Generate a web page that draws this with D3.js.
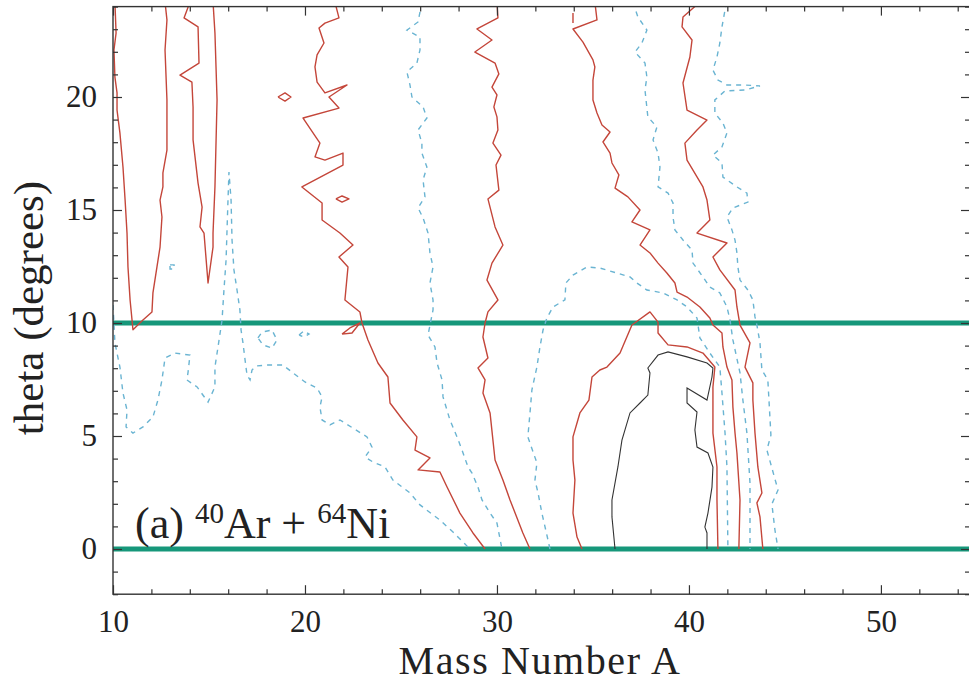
<!DOCTYPE html>
<html>
<head>
<meta charset="utf-8">
<script src="https://cdn.jsdelivr.net/npm/d3@7"></script>
<style>
  html, body { margin: 0; padding: 0; background: #ffffff; }
  svg { display: block; }
  text { font-family: "Liberation Serif", "DejaVu Serif", serif; fill: #222; }
</style>
</head>
<body>
<svg id="chart" width="969" height="682"></svg>
<script>
// ---- axis settings ----
const xDomain = [10, 54.64];
const yDomain = [-2, 24];
const xMajorTicks = [10, 20, 30, 40, 50];
const yMajorTicks = [0, 5, 10, 15, 20];
const xLabel = "Mass Number A";
const yLabel = "theta (degrees)";

// horizontal reference lines (theta window)
const windowLines = [0, 10];

// ---- contour lines, [A, theta] pairs ----
// solid red level
const red1 = [[10.10,24.2],[10.16,22.83],[10.05,22.08],[10.10,20.88],[10.21,20.18],[10.21,19.42],[10.36,18.41],[10.52,16.90],[10.63,15.44],[10.73,13.98],[10.78,12.48],[10.89,11.02],[11.04,9.70],[11.56,10.13],[12.03,10.49],[12.08,11.33],[12.29,12.48],[12.45,13.36],[12.55,14.69],[12.45,15.44],[12.60,16.02],[12.60,16.64],[12.81,17.65],[12.81,19.87],[12.71,22.08],[12.81,23.41],[12.71,24.2]];
const red2 = [[14.01,24.2],[13.70,23.50],[14.43,23.10],[14.48,21.50],[13.49,20.97],[14.11,20.66],[14.17,19.56],[14.17,18.10],[14.43,16.19],[14.64,15.13],[14.53,14.25],[14.74,13.98],[14.95,11.77],[15.21,13.36],[15.21,13.98],[15.31,16.02],[15.42,19.87],[15.31,22.83],[15.21,24.2]];
const red3 = [[18.59,20.0],[18.96,20.18],[19.27,20.0],[18.96,19.82],[18.59,20.0]];
const red4 = [[21.56,24.2],[21.77,23.50],[21.04,23.27],[20.73,23.05],[20.99,22.39],[20.63,21.86],[20.52,21.33],[20.63,20.66],[21.04,20.18],[22.19,20.53],[21.25,20.00],[21.77,19.51],[19.90,19.07],[20.78,17.96],[20.52,17.35],[21.04,17.21],[21.98,17.52],[21.98,16.99],[19.84,16.02],[20.89,15.31],[20.89,14.56],[21.82,13.98],[22.50,13.45],[21.77,12.92],[22.24,12.48],[22.08,11.02],[22.86,10.49],[22.97,10.00],[23.28,9.25],[23.80,8.23],[24.32,7.61],[24.43,6.46],[25.10,5.71],[25.83,4.96],[25.73,4.38],[26.51,4.03],[25.89,3.50],[27.03,3.41],[27.40,2.74],[28.07,1.59],[28.75,0.71],[29.38,0.0]];
const red5 = [[21.61,15.49],[21.93,15.62],[22.29,15.49],[21.93,15.35],[21.61,15.49]];
const red6 = [[21.93,9.51],[22.34,9.78],[22.86,10.00],[22.45,9.56],[21.93,9.51]];
const red7 = [[30.00,24.2],[30.05,23.50],[28.96,23.01],[29.74,22.52],[28.85,21.99],[29.90,21.50],[30.10,21.02],[29.74,20.44],[30.00,20.09],[29.84,19.56],[30.00,19.12],[30.05,18.54],[29.79,17.96],[30.21,17.43],[29.95,16.99],[30.10,15.88],[29.53,15.49],[29.90,14.25],[30.31,13.45],[29.74,12.65],[29.48,11.90],[30.05,11.02],[29.53,10.49],[29.38,10.00],[29.27,9.38],[29.53,8.45],[29.01,8.01],[29.38,7.48],[29.27,6.90],[29.64,6.02],[29.90,3.94],[30.31,3.05],[30.68,2.17],[31.35,0.71],[31.72,0.0]];
const red8 = [[33.96,23.72],[33.96,23.27]];
const red9 = [[34.43,0.0],[34.17,0.53],[33.96,1.59],[34.06,3.05],[33.96,3.94],[33.96,4.96],[34.32,6.02],[34.79,6.59],[34.95,7.61],[35.36,7.92],[35.73,8.05],[36.41,8.67],[37.03,9.91],[37.97,10.49],[38.39,10.04],[38.39,9.56],[38.91,9.03],[39.90,8.94],[40.73,8.67],[41.35,8.05],[41.25,7.17],[41.25,5.13],[41.46,3.63],[41.46,2.17],[41.51,0.0]];
const red10 = [[35.10,24.2],[35.21,23.41],[33.96,23.01],[34.48,22.43],[35.00,21.64],[35.10,21.33],[35.00,20.75],[35.00,19.87],[35.21,19.29],[35.47,18.76],[35.89,18.45],[35.52,18.01],[35.89,17.52],[35.99,17.08],[36.35,16.55],[36.15,15.97],[36.82,15.58],[37.45,15.00],[37.03,14.47],[37.97,14.12],[37.45,13.45],[37.97,13.10],[38.39,12.65],[38.85,12.21],[39.27,11.77],[39.38,11.37],[39.90,11.15],[40.57,10.71],[41.09,10.22],[41.25,9.91],[41.72,9.56],[41.77,8.94],[41.98,8.05],[42.24,7.48],[42.29,6.28],[42.40,5.13],[42.50,4.25],[42.66,2.17],[42.60,0.0]];
const red11 = [[40.57,24.2],[39.69,23.54],[39.64,23.10],[40.16,22.52],[40.05,21.77],[39.69,20.62],[39.90,19.42],[40.94,18.98],[40.42,18.54],[39.79,17.96],[39.90,17.21],[40.73,16.02],[40.94,15.44],[41.09,14.56],[40.42,13.98],[41.98,13.54],[41.25,12.92],[41.61,12.35],[42.40,11.46],[42.50,10.71],[42.66,9.91],[43.18,9.12],[42.92,8.05],[43.33,7.35],[43.33,6.59],[43.44,5.13],[43.59,3.63],[43.80,2.48],[43.54,2.04],[43.70,1.42],[43.85,0.0]];
// inner black level
const black1 = [[36.15,0.0],[35.99,1.42],[35.99,2.17],[36.30,3.63],[36.51,4.82],[36.93,6.02],[37.45,6.46],[37.86,6.81],[37.97,7.79],[37.86,8.01],[38.39,8.58],[38.91,8.72],[39.90,8.50],[40.94,8.23],[41.25,8.01],[41.20,7.61],[40.94,6.59],[39.90,7.12],[39.90,6.46],[40.42,6.06],[40.31,5.27],[40.42,4.51],[40.99,4.25],[41.25,3.63],[41.20,2.74],[40.99,1.59],[40.83,0.97],[40.94,0.71],[40.94,0.0]];
// dashed blue level
const blue1 = [[10.00,10.80],[10.10,9.12],[10.36,8.05],[10.52,6.90],[10.73,6.15],[10.68,5.40],[11.04,5.13],[11.56,5.40],[12.08,5.84],[12.34,6.59],[12.55,7.48],[12.71,8.45],[13.23,8.67],[14.01,8.58],[13.91,7.83],[13.85,7.48],[14.38,7.17],[14.95,6.50],[15.31,7.17],[15.31,8.05],[15.47,8.94],[15.68,10.13],[15.78,11.46],[15.89,12.79],[15.94,14.12],[15.99,15.44],[16.04,16.68],[16.15,15.44],[16.20,13.67],[16.30,12.35],[16.46,11.46],[16.61,10.58],[16.67,9.69],[16.77,9.12],[16.88,8.36],[16.98,7.70],[17.14,7.48],[17.24,7.92],[17.45,8.10],[18.02,8.14],[18.85,8.14],[19.38,7.79],[20.00,7.39],[20.63,7.12],[20.89,6.73],[20.78,6.28],[20.89,5.71],[21.30,5.49],[21.82,5.71],[22.50,5.35],[23.23,4.96],[23.49,4.51],[23.13,4.07],[23.54,3.85],[24.17,3.63],[24.58,3.05],[25.47,2.48],[25.99,1.95],[27.03,1.28],[27.71,0.75],[28.23,0.31],[28.59,0.0]];
const blue2 = [[17.55,9.34],[17.76,9.60],[18.28,9.69],[18.54,9.25],[18.28,8.89],[17.81,9.03],[17.55,9.34]];
const blue3 = [[19.69,9.47],[19.95,9.65],[20.21,9.51],[19.95,9.38],[19.69,9.47]];
const blue4 = [[12.97,12.57],[13.18,12.57],[13.18,12.39],[12.97,12.39],[12.97,12.57]];
const blue5 = [[26.09,24.2],[25.89,23.32],[25.31,22.96],[25.99,22.65],[25.99,22.08],[25.83,21.50],[25.31,21.11],[25.47,20.53],[25.57,20.00],[26.15,19.56],[26.35,19.07],[25.89,18.54],[26.09,17.96],[26.09,17.52],[26.35,16.90],[26.15,16.33],[26.25,15.58],[25.89,15.09],[26.15,14.65],[26.41,13.98],[26.51,13.10],[26.67,12.48],[26.51,11.77],[26.67,11.02],[26.67,10.58],[26.41,9.47],[26.77,8.94],[26.88,8.23],[27.14,7.48],[27.19,6.73],[27.55,5.71],[27.92,4.96],[28.18,4.38],[28.49,3.63],[28.70,3.36],[29.01,2.74],[29.22,2.17],[29.64,1.59],[30.00,1.15],[30.26,0.0]];
const blue6 = [[32.76,0.0],[32.60,0.62],[32.34,1.59],[32.14,2.48],[31.98,3.05],[32.08,3.81],[31.61,4.96],[31.72,6.02],[31.82,7.04],[32.08,8.05],[32.24,8.94],[32.40,9.69],[32.60,10.22],[32.92,10.71],[33.54,11.02],[33.59,11.77],[33.96,12.12],[34.69,12.48],[35.36,12.43],[36.25,12.21],[36.93,12.04],[37.29,11.77],[37.81,11.46],[38.65,11.33],[39.38,11.02],[39.90,10.71],[40.42,10.22],[40.57,9.34],[41.09,8.67],[41.61,8.05],[41.72,6.90],[41.88,5.13],[41.98,3.63],[42.03,0.0]];
const blue7 = [[37.08,24.2],[37.34,23.54],[37.81,22.96],[37.55,22.39],[37.19,21.99],[37.71,21.50],[37.81,20.88],[37.71,20.31],[37.86,19.12],[38.33,18.67],[38.13,18.10],[38.39,17.52],[38.49,16.90],[38.39,16.02],[38.91,15.75],[39.17,15.31],[39.17,14.69],[39.27,14.12],[39.69,13.67],[40.16,13.23],[40.21,12.65],[40.73,12.04],[41.09,11.59],[41.61,11.33],[41.98,10.71],[42.14,10.13],[42.29,9.25],[42.66,7.79],[42.81,6.59],[43.02,5.13],[43.18,2.92],[43.18,0.0]];
const blue8 = [[41.93,24.2],[41.88,23.85],[41.72,23.10],[41.61,22.39],[41.46,21.77],[41.25,21.19],[41.51,20.75],[41.98,20.53],[42.92,20.53],[43.70,20.49],[42.92,20.31],[41.88,20.27],[41.35,19.87],[41.35,19.29],[41.77,18.85],[41.98,18.41],[41.72,17.79],[41.25,17.43],[41.72,17.08],[41.77,16.46],[42.50,16.02],[43.02,15.75],[43.07,15.35],[42.29,15.09],[41.98,14.69],[42.24,14.12],[42.40,13.67],[42.50,13.10],[42.55,12.48],[42.66,11.90],[43.07,11.46],[43.33,11.02],[43.44,10.27],[43.54,9.91],[43.70,9.12],[43.80,7.92],[44.11,7.48],[44.27,5.04],[44.06,4.38],[44.64,2.61],[44.32,1.99],[44.48,0.84],[44.64,0.0]];

const redLines = [red1, red2, red3, red4, red5, red6, red7, red8, red9, red10, red11];
const blackLines = [black1];
const blueLines = [blue1, blue2, blue3, blue4, blue5, blue6, blue7, blue8];

// ---- layout ----
const svg = d3.select("#chart");
const plotLeft = 113, plotRight = 970, plotTop = 6.6, plotBottom = 594.2;

const x = d3.scaleLinear().domain(xDomain).range([plotLeft, plotRight]);
const y = d3.scaleLinear().domain(yDomain).range([plotBottom, plotTop]);

svg.append("defs").append("clipPath").attr("id", "plotClip")
  .append("rect").attr("x", plotLeft).attr("y", plotTop)
  .attr("width", plotRight - plotLeft).attr("height", plotBottom - plotTop);

const plot = svg.append("g").attr("clip-path", "url(#plotClip)");
const line = d3.line().x(d => x(d[0])).y(d => y(d[1]));

// reference lines for the theta window
plot.selectAll("line.window").data(windowLines).join("line")
  .attr("class", "window")
  .attr("x1", plotLeft).attr("x2", plotRight)
  .attr("y1", d => y(d)).attr("y2", d => y(d))
  .attr("stroke", "#16977a").attr("stroke-width", 4.8);

plot.selectAll("path.blue").data(blueLines).join("path")
  .attr("class", "blue").attr("d", line)
  .attr("fill", "none").attr("stroke", "#6ab4d2")
  .attr("stroke-width", 1.4).attr("stroke-dasharray", "5,5");

plot.selectAll("path.red").data(redLines).join("path")
  .attr("class", "red").attr("d", line)
  .attr("fill", "none").attr("stroke", "#c4463a")
  .attr("stroke-width", 1.4).attr("stroke-linejoin", "round");

plot.selectAll("path.black").data(blackLines).join("path")
  .attr("class", "black").attr("d", line)
  .attr("fill", "none").attr("stroke", "#333")
  .attr("stroke-width", 1.1);

// ---- axes: ticks point inward on all four sides ----
const axisColor = "#333";
const xMinor = d3.range(10, 55, 2).filter(v => !xMajorTicks.includes(v));
const yMinor = d3.range(-2, 25, 1).filter(v => !yMajorTicks.includes(v));

function styleAxis(g) {
  g.select(".domain").remove();
  g.selectAll(".tick line").attr("stroke", axisColor).attr("stroke-width", 1.2);
}
function styleLabels(g) {
  g.selectAll("text").attr("font-size", 31).attr("fill", "#222")
    .attr("font-family", "Liberation Serif, DejaVu Serif, serif");
}

// bottom
svg.append("g").attr("transform", `translate(0,${plotBottom})`)
  .call(d3.axisBottom(x).tickValues(xMajorTicks).tickSize(-9).tickPadding(16).tickFormat(d3.format("d")))
  .call(styleAxis).call(styleLabels);
svg.append("g").attr("transform", `translate(0,${plotBottom})`)
  .call(d3.axisBottom(x).tickValues(xMinor).tickSize(-5).tickFormat(""))
  .call(styleAxis);
// top
svg.append("g").attr("transform", `translate(0,${plotTop})`)
  .call(d3.axisTop(x).tickValues(xMajorTicks).tickSize(-9).tickFormat(""))
  .call(styleAxis);
svg.append("g").attr("transform", `translate(0,${plotTop})`)
  .call(d3.axisTop(x).tickValues(xMinor).tickSize(-5).tickFormat(""))
  .call(styleAxis);
// left
svg.append("g").attr("transform", `translate(${plotLeft},0)`)
  .call(d3.axisLeft(y).tickValues(yMajorTicks).tickSize(-9).tickPadding(16).tickFormat(d3.format("d")))
  .call(styleAxis).call(styleLabels);
svg.append("g").attr("transform", `translate(${plotLeft},0)`)
  .call(d3.axisLeft(y).tickValues(yMinor).tickSize(-5).tickFormat(""))
  .call(styleAxis);
// right
svg.append("g").attr("transform", `translate(${plotRight},0)`)
  .call(d3.axisRight(y).tickValues(yMajorTicks).tickSize(-9).tickFormat(""))
  .call(styleAxis);
svg.append("g").attr("transform", `translate(${plotRight},0)`)
  .call(d3.axisRight(y).tickValues(yMinor).tickSize(-5).tickFormat(""))
  .call(styleAxis);

// frame
svg.append("rect").attr("x", plotLeft).attr("y", plotTop)
  .attr("width", plotRight - plotLeft).attr("height", plotBottom - plotTop)
  .attr("fill", "none").attr("stroke", axisColor).attr("stroke-width", 1.4);

// axis titles
svg.append("text").attr("x", 540).attr("y", 674)
  .attr("text-anchor", "middle").attr("font-size", 40).attr("letter-spacing", 1.6).text(xLabel);
svg.append("text").attr("transform", `translate(43,308) rotate(-90)`)
  .attr("text-anchor", "middle").attr("font-size", 43).text(yLabel);

// reaction label
const tag = svg.append("text").attr("x", x(11.15)).attr("y", y(0.5)).attr("font-size", 44);
tag.append("tspan").text("(a) ");
tag.append("tspan").attr("font-size", 29).attr("dy", -15).text("40");
tag.append("tspan").attr("dy", 15).text("Ar + ");
tag.append("tspan").attr("font-size", 29).attr("dy", -15).text("64");
tag.append("tspan").attr("dy", 15).text("Ni");
</script>
</body>
</html>
